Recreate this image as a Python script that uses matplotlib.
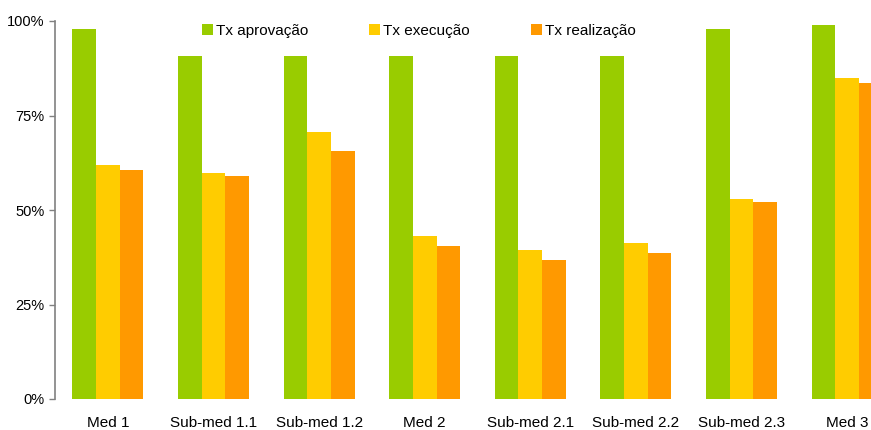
import matplotlib
matplotlib.use("Agg")
import matplotlib.pyplot as plt
import numpy as np
from matplotlib.ticker import FuncFormatter

plt.rcParams['font.family'] = ['Liberation Sans', 'DejaVu Sans']

categories = ["Med 1", "Sub-med 1.1", "Sub-med 1.2", "Med 2", "Sub-med 2.1",
              "Sub-med 2.2", "Sub-med 2.3", "Med 3"]
series_names = ["Tx aprovação", "Tx execução", "Tx realização"]
tx_aprovacao = [97.9, 90.7, 90.7, 90.7, 90.7, 90.7, 97.9, 98.9]
tx_execucao = [61.9, 59.8, 70.6, 43.1, 39.4, 41.3, 52.9, 84.9]
tx_realizacao = [60.6, 59.0, 65.6, 40.5, 36.8, 38.6, 52.1, 83.6]
colors = ["#99CC00", "#FFCC00", "#FF9900"]
yticks = [0, 25, 50, 75, 100]

W, H = 871, 430
fig = plt.figure(figsize=(W / 100, H / 100), dpi=100)
left_px, right_px, top_px, bottom_px = 55, 900, 21, 399
ax = fig.add_axes([left_px / W, 1 - bottom_px / H, (right_px - left_px) / W, (bottom_px - top_px) / H])

x = np.arange(len(categories))
bw = 0.224
for i, (vals, name) in enumerate(zip([tx_aprovacao, tx_execucao, tx_realizacao], series_names)):
    ax.bar(x + (i - 1) * bw, vals, width=bw, color=colors[i], label=name, linewidth=0)

ax.set_xlim(-0.5, len(categories) - 0.5)
ax.set_ylim(0, 100)
ax.set_yticks(yticks)
ax.yaxis.set_major_formatter(FuncFormatter(lambda v, p: f"{int(v)}%"))
ax.set_xticks(x)
ax.set_xticklabels(categories, fontsize=11)
ax.tick_params(axis='x', length=0, pad=12)
ax.tick_params(axis='y', length=4, width=1, color="#808080", pad=3.5, labelsize=10.5, direction='out')
for s in ["top", "right", "bottom"]:
    ax.spines[s].set_visible(False)
ax.spines["left"].set_color("#808080")
ax.spines["left"].set_linewidth(1.2)

leg = fig.legend(loc="center", bbox_to_anchor=(419 / W, 1 - 31 / H), ncol=3, frameon=False,
                 fontsize=11, handlelength=0.72, handleheight=0.72, handletextpad=0.2,
                 columnspacing=4.0)

fig.savefig("out.png", dpi=100)
